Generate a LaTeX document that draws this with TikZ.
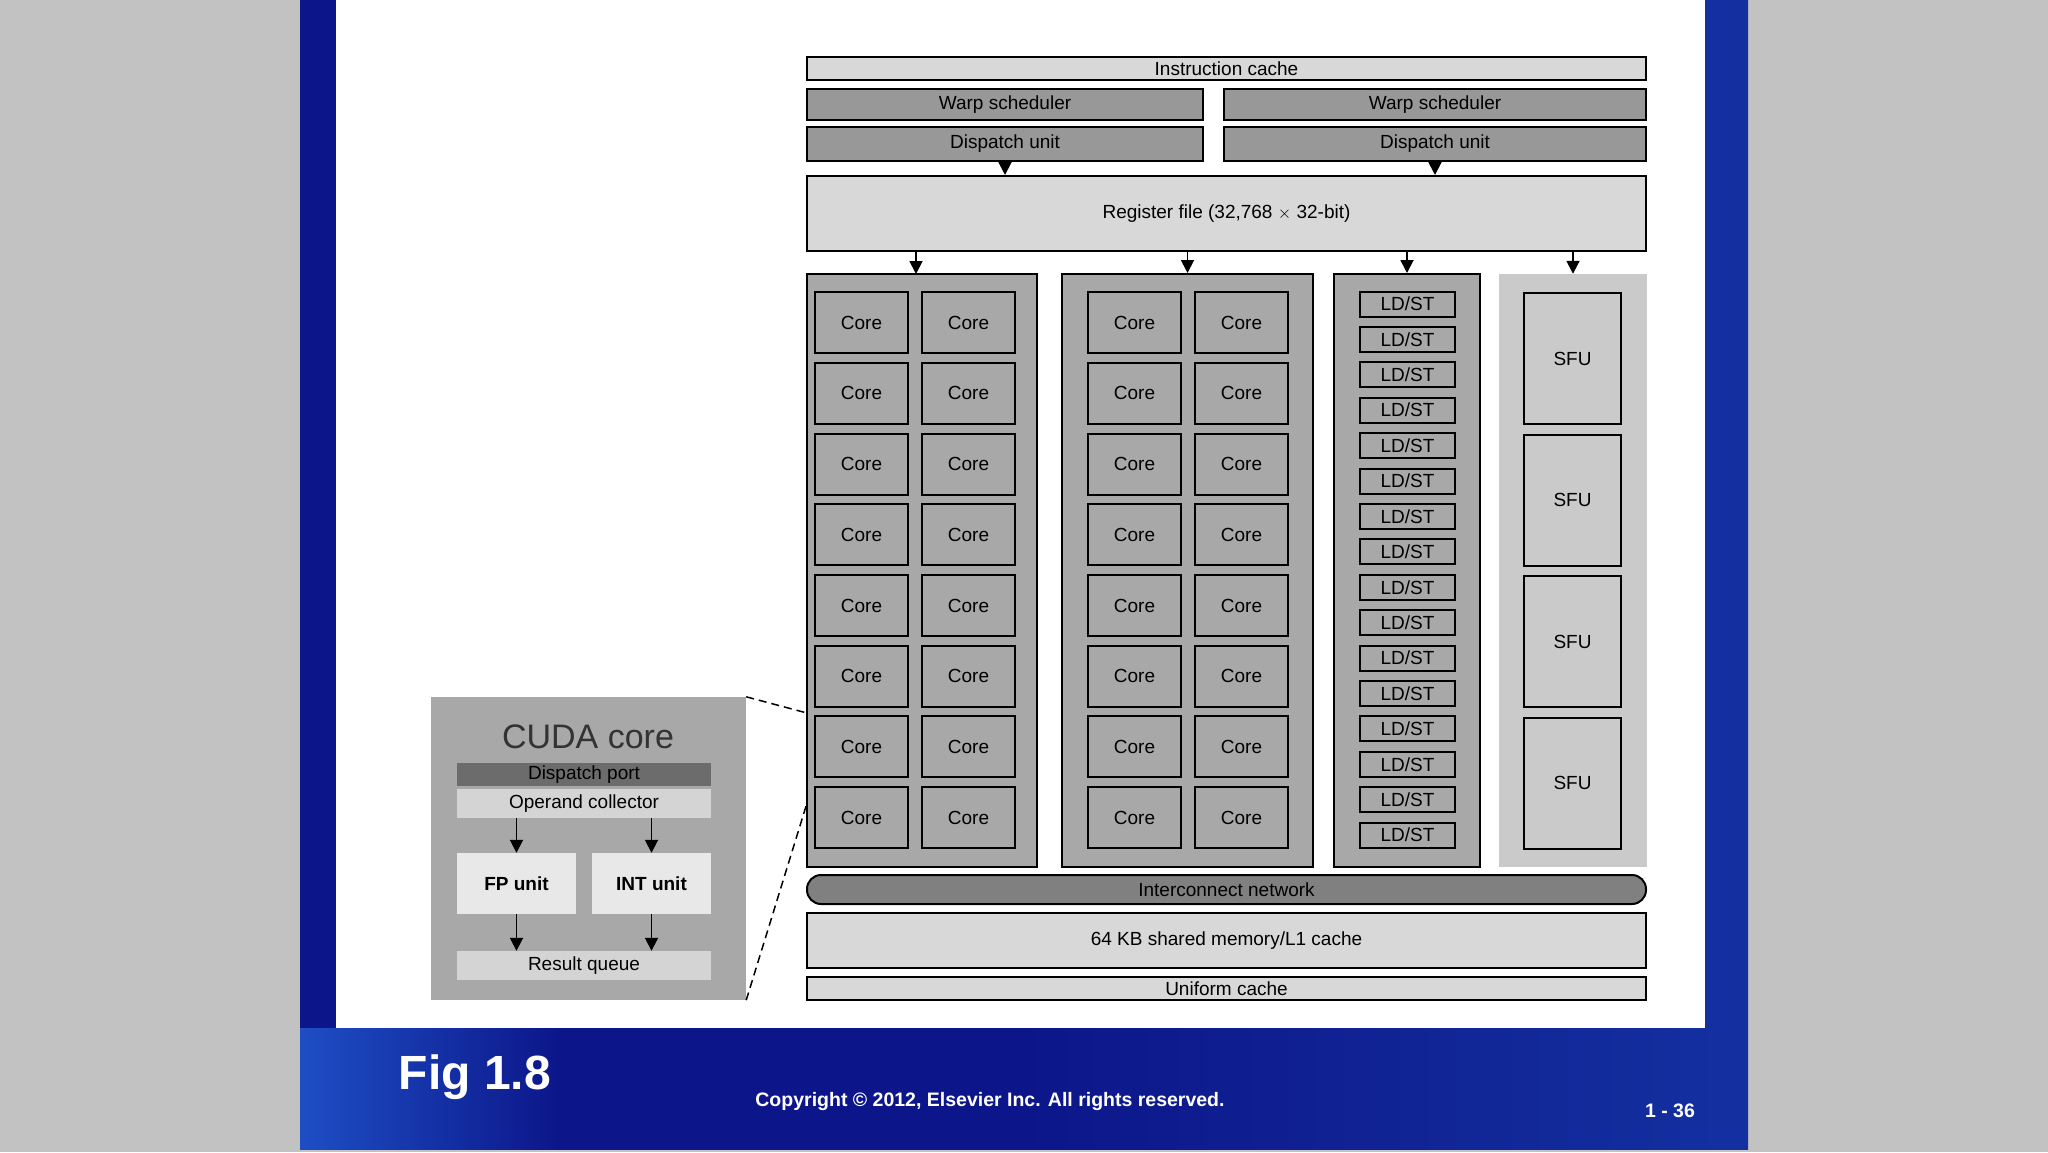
\documentclass[tikz,border=0pt]{standalone}
\usepackage{fontspec}
\setmainfont{Liberation Sans}
\usetikzlibrary{arrows.meta}
\definecolor{side_gray}{RGB}{194,194,194}
\definecolor{blue_l}{RGB}{30,78,196}
\definecolor{blue_d}{RGB}{12,22,138}
\definecolor{blue_r}{RGB}{20,48,160}
\definecolor{sm_light}{RGB}{216,216,216}
\definecolor{sm_mid}{RGB}{168,168,168}
\definecolor{sm_dark}{RGB}{152,152,152}
\definecolor{sm_sfu}{RGB}{202,202,202}
\definecolor{sm_net}{RGB}{128,128,128}
\definecolor{cc_port}{RGB}{108,108,108}
\definecolor{cc_pale}{RGB}{212,212,212}
\definecolor{cc_unit}{RGB}{232,232,232}
\tikzstyle{txt}=[font=\fontsize{19}{19}\selectfont,inner sep=0pt]
\tikzstyle{bx}=[txt,draw=black,line width=2pt]
\tikzstyle{lb}=[bx,fill=sm_light]
\tikzstyle{db}=[bx,fill=sm_dark]
\tikzstyle{col}=[draw=black,line width=2pt,fill=sm_mid]
\tikzstyle{core}=[bx,fill=sm_mid,minimum width=93pt,minimum height=61pt]
\tikzstyle{ldst}=[bx,fill=sm_mid,minimum width=95pt,minimum height=25pt]
\tikzstyle{sfu}=[bx,fill=sm_sfu,minimum width=97pt,minimum height=131pt]
\tikzstyle{cc}=[txt,minimum width=254pt]
\tikzstyle{arr}=[-{Triangle[length=13pt,width=13pt]},line width=1.8pt]
\tikzstyle{foot}=[text=white,font=\bfseries\fontsize{19.5}{19.5}\selectfont]

\begin{document}
\begin{tikzpicture}[x=1pt,y=-1pt]
    \useasboundingbox (0,0) rectangle (2048,1152);
    % slide
    \fill[side_gray] (0,0) rectangle (2048,1152);
    \shade[left color=blue_d,right color=blue_r,middle color=blue_d] (300,0) rectangle (1748,1149);
    \shade[left color=blue_l,right color=blue_d] (300,1028) rectangle (560,1149);
    \fill[white] (336,0) rectangle (1705,1028);
    % front end
    \node [style=lb,minimum width=839pt,minimum height=23pt] (ic) at (1226.5, 68.5) {Instruction cache};
    \node [style=db,minimum width=396pt,minimum height=31pt] (ws1) at (1005, 104.5) {Warp scheduler};
    \node [style=db,minimum width=422pt,minimum height=31pt] (ws2) at (1435, 104.5) {Warp scheduler};
    \node [style=db,minimum width=396pt,minimum height=34pt] (du1) at (1005, 144) {Dispatch unit};
    \node [style=db,minimum width=422pt,minimum height=34pt] (du2) at (1435, 144) {Dispatch unit};
    \node [style=lb,minimum width=839pt,minimum height=75pt] (rf) at (1226.5, 213.5) {Register file (32,768 $\times$ 32-bit)};
    \draw [style=arr] (du1) -- (du1 |- rf.north);
    \draw [style=arr] (du2) -- (du2 |- rf.north);
    % execution columns
    \node [style=col,minimum width=230pt,minimum height=593pt] (c1) at (922, 570.5) {};
    \node [style=col,minimum width=251pt,minimum height=593pt] (c2) at (1187.5, 570.5) {};
    \node [style=col,minimum width=146pt,minimum height=593pt] (c3) at (1407, 570.5) {};
    \node [fill=sm_sfu,minimum width=148pt,minimum height=593pt] (c4) at (1573, 570.5) {};
    \draw [style=arr] (rf.south -| 916,0) -- (916,274);
    \draw [style=arr] (rf.south -| c2) -- (c2.north);
    \draw [style=arr] (rf.south -| c3) -- (c3.north);
    \draw [style=arr] (rf.south -| c4) -- (c4.north);
    \foreach \i in {0,...,7} {
        \node [style=core] (a\i) at (861.5, 322.6+70.72*\i) {Core};
        \node [style=core] (b\i) at (968.5, 322.6+70.72*\i) {Core};
        \node [style=core] (d\i) at (1134.5, 322.6+70.72*\i) {Core};
        \node [style=core] (e\i) at (1241.5, 322.6+70.72*\i) {Core};
    }
    \foreach \i in {0,...,15}
        \node [style=ldst] (l\i) at (1407.5, 304+35.4*\i) {LD/ST};
    \foreach \i in {0,...,3}
        \node [style=sfu] (s\i) at (1572.5, 358.5+141.5*\i) {SFU};
    % memory
    \node [style=bx,fill=sm_net,rounded corners=14pt,minimum width=839pt,minimum height=29pt] (net) at (1226.5, 889.5) {Interconnect network};
    \node [style=lb,minimum width=839pt,minimum height=55pt] (shm) at (1226.5, 940.5) {64 KB shared memory/L1 cache};
    \node [style=lb,minimum width=839pt,minimum height=23pt] (uc) at (1226.5, 988.5) {Uniform cache};
    % CUDA core detail
    \node [fill=sm_mid,minimum width=315pt,minimum height=303pt] (cuda) at (588.5, 848.5) {};
    \node [style=txt,font=\fontsize{34}{34}\selectfont,text=black!80] (title) at (588, 737) {CUDA core};
    \node [style=cc,fill=cc_port,minimum height=23pt] (port) at (584, 774.5) {Dispatch port};
    \node [style=cc,fill=cc_pale,minimum height=29pt] (opc) at (584, 803.5) {Operand collector};
    \node [style=txt,fill=cc_unit,minimum width=119pt,minimum height=61pt] (fp) at (516.5, 883.5) {\bfseries FP unit};
    \node [style=txt,fill=cc_unit,minimum width=119pt,minimum height=61pt] (int) at (651.5, 883.5) {\bfseries INT unit};
    \node [style=cc,fill=cc_pale,minimum height=29pt] (rq) at (584, 965.5) {Result queue};
    \draw [style=arr] (opc.south -| fp) -- (fp);
    \draw [style=arr] (opc.south -| int) -- (int);
    \draw [style=arr] (fp) -- (fp |- rq.north);
    \draw [style=arr] (int) -- (int |- rq.north);
    \coordinate (z1) at (807, 713);
    \coordinate (z2) at (807, 803);
    \draw [line width=1.5pt,dash pattern=on 8pt off 5pt] (cuda.north east) -- (z1);
    \draw [line width=1.5pt,dash pattern=on 8pt off 5pt] (cuda.south east) -- (z2);
    % footer
    \node [style=foot,font=\bfseries\fontsize{48}{48}\selectfont] (fig) at (475, 1077) {Fig 1.8};
    \node [style=foot] (copy) at (990, 1101) {Copyright © 2012, Elsevier Inc. All rights reserved.};
    \node [style=foot] (page) at (1670, 1111) {1 - 36};
\end{tikzpicture}
\end{document}
